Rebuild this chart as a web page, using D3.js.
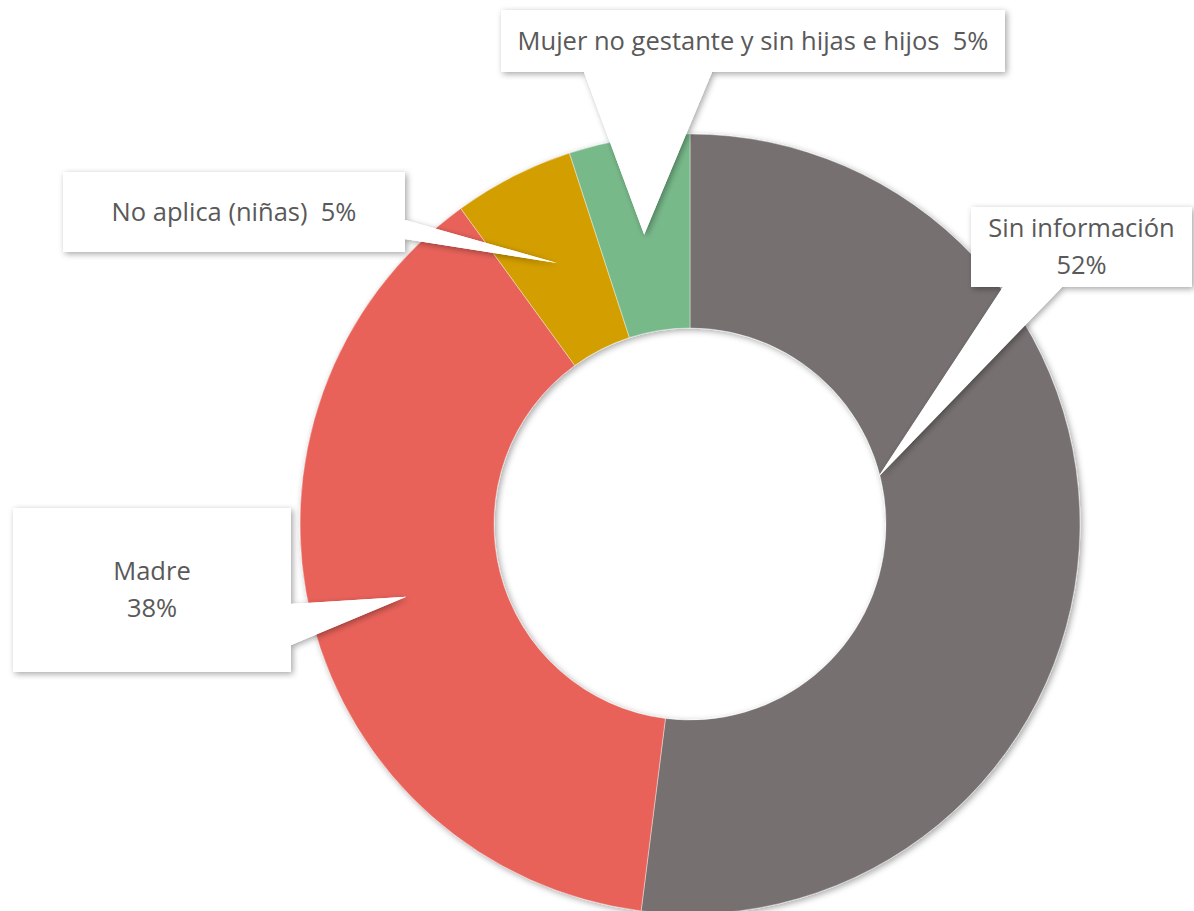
<!DOCTYPE html>
<html>
<head>
<meta charset="utf-8">
<script src="https://cdn.jsdelivr.net/npm/d3@7"></script>
<style>
  body { margin: 0; background: #fff; }
  svg { display: block; }
  text { white-space: pre; }
</style>
</head>
<body>
<div id="chart-area"></div>
<script>
// data
const categories = ["Sin información", "Madre", "No aplica (niñas)", "Mujer no gestante y sin hijas e hijos"]
const values = [52, 38, 5, 5]
const colors = ["#767170", "#E8625A", "#D39E00", "#78B98A"]

// callout layout (box, pointer base, tip)
const callouts = [
  { box: [971, 207, 221, 80], lines: ["Sin información", "52%"], base: [[1003, 287], [1062, 287]], tip: { angle: 76, r: 194 } },
  { box: [13, 508, 278, 164], lines: ["Madre", "38%"], base: [[291, 604], [291, 645]] },
  { box: [63, 172, 342, 80], lines: ["No aplica (niñas)  5%"], base: [[405, 220], [405, 239]] },
  { box: [501, 10, 504, 62], lines: ["Mujer no gestante y sin hijas e hijos  5%"], base: [[584, 72], [712, 72]] }
]

const svgWidth = 1194
const svgHeight = 911
const cx = 690, cy = 524
const outerR = 390, innerR = 196

const svg = d3.select("#chart-area")
  .append("svg")
  .attr("width", svgWidth)
  .attr("height", svgHeight)

const defs = svg.append("defs")
defs.append("filter")
  .attr("id", "shadow")
  .attr("x", "-20%").attr("y", "-20%").attr("width", "140%").attr("height", "140%")
  .append("feDropShadow")
  .attr("dx", 2).attr("dy", 2).attr("stdDeviation", 3)
  .attr("flood-color", "#000").attr("flood-opacity", 0.35)

const pie = d3.pie().sort(null).value(d => d)
const arcs = pie(values)
const arc = d3.arc().innerRadius(innerR).outerRadius(outerR)

const chart = svg.append("g")
  .attr("transform", `translate(${cx},${cy})`)

chart.append("g")
  .attr("filter", "url(#shadow)")
  .selectAll("path")
  .data(arcs)
  .join("path")
  .attr("d", arc)
  .attr("fill", (d, i) => colors[i])
  .attr("stroke", "#fff")
  .attr("stroke-width", 0.4)

// callouts
const labels = svg.append("g")
  .attr("font-family", "'Open Sans', sans-serif")
  .attr("font-size", 25.5)
  .attr("fill", "#595959")

callouts.forEach((c, i) => {
  let tx, ty
  if (c.tip) {
    const a = c.tip.angle * Math.PI / 180
    tx = cx + c.tip.r * Math.sin(a)
    ty = cy - c.tip.r * Math.cos(a)
  } else {
    const p = arc.centroid(arcs[i])
    tx = cx + p[0]
    ty = cy + p[1]
  }
  const [x, y, w, h] = c.box
  const g = labels.append("g").attr("filter", "url(#shadow)")
  g.append("rect")
    .attr("x", x).attr("y", y).attr("width", w).attr("height", h)
    .attr("fill", "#fff")
  g.append("path")
    .attr("d", d3.line()([c.base[0], [tx, ty], c.base[1]]) + "Z")
    .attr("fill", "#fff")
  // cover shadow seam between box and pointer
  labels.append("rect")
    .attr("x", x).attr("y", y).attr("width", w).attr("height", h)
    .attr("fill", "#fff")
  labels.append("path")
    .attr("d", d3.line()([c.base[0], [tx, ty], c.base[1]]) + "Z")
    .attr("fill", "#fff")

  const lh = 37
  const y0 = y + h / 2 - (c.lines.length - 1) * lh / 2
  c.lines.forEach((t, j) => {
    labels.append("text")
      .attr("x", x + w / 2)
      .attr("y", y0 + j * lh)
      .attr("dy", "0.35em")
      .attr("text-anchor", "middle")
      .text(t)
  })
})
</script>
</body>
</html>
